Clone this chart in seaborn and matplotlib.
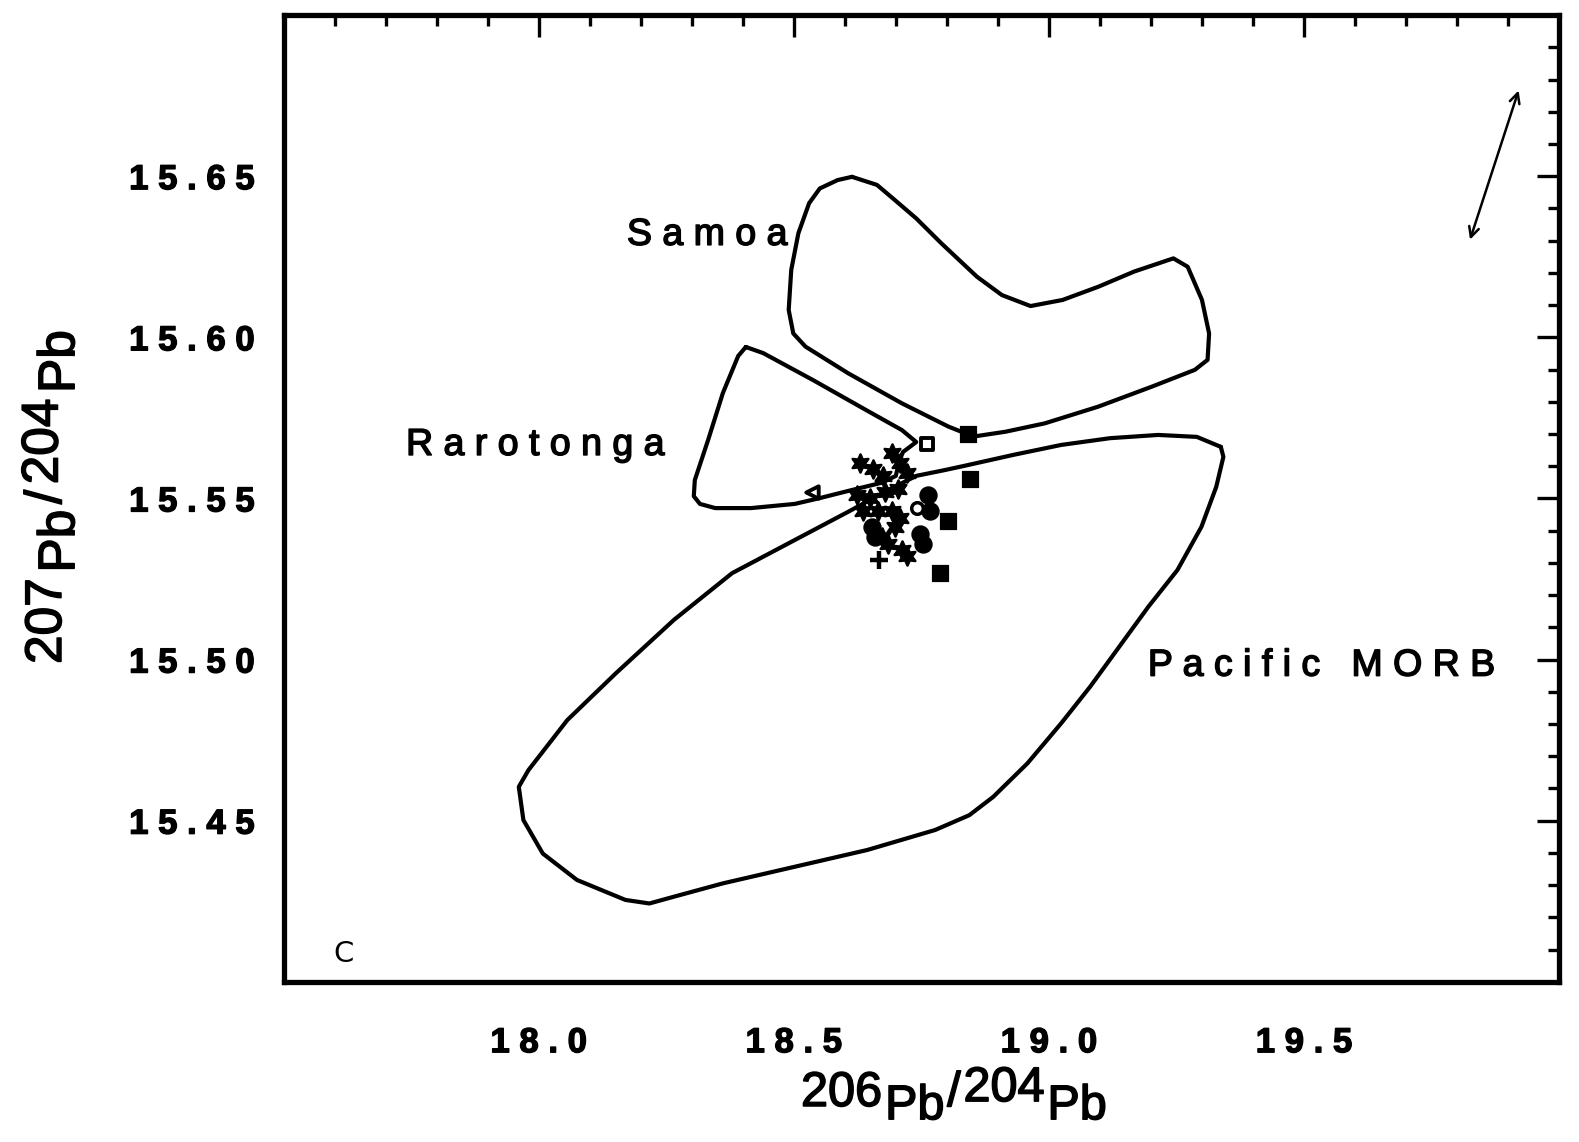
import matplotlib
matplotlib.use("Agg")
import matplotlib.pyplot as plt
import matplotlib.patheffects as pe
from matplotlib.ticker import FixedLocator, FixedFormatter
import seaborn as sns
import pandas as pd

# ---------------- data ----------------
# field outlines (206Pb/204Pb, 207Pb/204Pb)
samoa_x = [18.614, 18.663, 18.698, 18.740, 18.789, 18.859, 18.908, 18.964, 19.027,
           19.097, 19.167, 19.244, 19.272, 19.300, 19.314, 19.311, 19.286, 19.202,
           19.097, 18.992, 18.915, 18.852, 18.803, 18.712, 18.607, 18.523, 18.499,
           18.490, 18.495, 18.509, 18.530, 18.551, 18.586]
samoa_y = [15.6498, 15.6473, 15.6426, 15.6369, 15.6292, 15.6188, 15.6131, 15.6097,
           15.6116, 15.6157, 15.6204, 15.6245, 15.6219, 15.6116, 15.6012, 15.5930,
           15.5899, 15.5847, 15.5785, 15.5733, 15.5707, 15.5692, 15.5723, 15.5795,
           15.5888, 15.5971, 15.6012, 15.6085, 15.6209, 15.6323, 15.6416, 15.6462,
           15.6488]

raro_x = [18.406, 18.391, 18.361, 18.332, 18.306, 18.304, 18.316, 18.346, 18.416,
          18.502, 18.551, 18.606, 18.673, 18.700, 18.706, 18.714, 18.740, 18.712,
          18.642, 18.538, 18.440]
raro_y = [15.5970, 15.5942, 15.5827, 15.5681, 15.5557, 15.5507, 15.5483, 15.5470,
          15.5470, 15.5483, 15.5501, 15.5523, 15.5549, 15.5570, 15.5613, 15.5644,
          15.5675, 15.5712, 15.5774, 15.5867, 15.5951]

morb_x = [19.337, 19.342, 19.328, 19.299, 19.252, 19.195, 19.138, 19.081, 19.024,
          18.958, 18.891, 18.844, 18.777, 18.644, 18.502, 18.360, 18.265, 18.217,
          18.170, 18.075, 18.008, 17.970, 17.961, 17.980, 18.056, 18.151, 18.265,
          18.379, 18.502, 18.606, 18.689, 18.740, 18.796, 18.834, 18.930, 19.024,
          19.120, 19.214, 19.290]
morb_y = [15.5660, 15.5629, 15.5536, 15.5412, 15.5278, 15.5164, 15.5040, 15.4916,
          15.4802, 15.4678, 15.4574, 15.4517, 15.4471, 15.4409, 15.4357, 15.4305,
          15.4264, 15.4243, 15.4254, 15.4316, 15.4398, 15.4502, 15.4605, 15.4657,
          15.4812, 15.4957, 15.5123, 15.5268, 15.5371, 15.5458, 15.5529, 15.5570,
          15.5588, 15.5601, 15.5635, 15.5666, 15.5687, 15.5697, 15.5691]

# samples
star_x = [18.630, 18.656, 18.692, 18.708, 18.721, 18.675, 18.623, 18.649, 18.679,
          18.705, 18.636, 18.666, 18.692, 18.708, 18.698, 18.672, 18.685, 18.712, 18.721]
star_y = [15.561, 15.559, 15.564, 15.561, 15.558, 15.557, 15.551, 15.550, 15.552,
          15.553, 15.546, 15.546, 15.546, 15.544, 15.541, 15.538, 15.536, 15.534, 15.532]
circle_x = [18.653, 18.659, 18.747, 18.754, 18.764, 18.767]
circle_y = [15.541, 15.538, 15.539, 15.536, 15.551, 15.546]
open_circle_x = [18.741]
open_circle_y = [15.547]
square_x = [18.841, 18.845, 18.802, 18.787]
square_y = [15.570, 15.556, 15.543, 15.527]
open_square_x = [18.762]
open_square_y = [15.567]
triangle_x = [18.536]
triangle_y = [15.552]
plus_x = [18.667]
plus_y = [15.531]

x_major = [18.0, 18.5, 19.0, 19.5]
x_tick_labels = ["18.0", "18.5", "19.0", "19.5"]
y_major = [15.45, 15.50, 15.55, 15.60, 15.65]
y_tick_labels = ["15.45", "15.50", "15.55", "15.60", "15.65"]

# ---------------- figure ----------------
sns.set_theme(style="white")
plt.rcParams["font.family"] = ["Liberation Sans", "DejaVu Sans"]
plt.rcParams.update({"text.color": "black", "axes.labelcolor": "black",
                     "xtick.color": "black", "ytick.color": "black"})

# slightly heavier strokes for printed-looking text
heavy = [pe.withStroke(linewidth=1.1, foreground="black")]

fig = plt.figure(figsize=(15.79, 11.42), dpi=100)
ax = fig.add_axes([0.1796, 0.1403, 0.8078, 0.8465])
ax.set_xlim(17.5, 20.0)
ax.set_ylim(15.40, 15.70)

def outline(xs, ys):
    df = pd.DataFrame({"x": list(xs) + [xs[0]], "y": list(ys) + [ys[0]]})
    sns.lineplot(data=df, x="x", y="y", sort=False, estimator=None, ax=ax,
                 color="black", linewidth=3.0, solid_joinstyle="round")

outline(samoa_x, samoa_y)
outline(raro_x, raro_y)
outline(morb_x, morb_y)

sns.scatterplot(x=star_x, y=star_y, marker=(6, 1, 0), s=170, color="black",
                edgecolor="black", linewidth=1.8, ax=ax, zorder=3)
sns.scatterplot(x=circle_x, y=circle_y, marker="o", s=150, color="black",
                edgecolor="black", ax=ax, zorder=3)
sns.scatterplot(x=open_circle_x, y=open_circle_y, marker="o", s=70, color="white",
                edgecolor="black", linewidth=2.5, ax=ax, zorder=4)
sns.scatterplot(x=square_x, y=square_y, marker="s", s=120, color="black",
                edgecolor="black", ax=ax, zorder=3)
sns.scatterplot(x=open_square_x, y=open_square_y, marker="s", s=70, color="white",
                edgecolor="black", linewidth=2.8, ax=ax, zorder=3)
sns.scatterplot(x=triangle_x, y=triangle_y, marker="<", s=80, color="white",
                edgecolor="black", linewidth=2.8, ax=ax, zorder=3)
sns.scatterplot(x=plus_x, y=plus_y, marker="+", s=170, color="black",
                linewidth=3.2, ax=ax, zorder=3)

# field labels
label_kw = dict(fontsize=27, family="Liberation Sans", va="baseline", ha="left",
                color="black", path_effects=heavy)
ax.text(18.173, 15.6287, "S a m o a", **label_kw)
ax.text(17.740, 15.5635, "R a r o t o n g a", **label_kw)
ax.text(19.194, 15.4950, "P a c i f i c   M O R B", **label_kw)
ax.text(17.597, 15.4062, "C", fontsize=21, family="DejaVu Sans",
        va="baseline", ha="left", color="black")

# double-headed arrow, upper right
ax.annotate("", xy=(19.9206, 15.6766), xytext=(19.8254, 15.6303),
            arrowprops=dict(arrowstyle="<->", lw=1.8, color="black",
                            mutation_scale=18, shrinkA=0, shrinkB=0))

# ticks
ax.xaxis.set_major_locator(FixedLocator(x_major))
ax.xaxis.set_major_formatter(FixedFormatter([" ".join(t) for t in x_tick_labels]))
ax.xaxis.set_minor_locator(FixedLocator([round(17.6 + 0.1 * i, 1) for i in range(24)]))
ax.yaxis.set_major_locator(FixedLocator(y_major))
ax.yaxis.set_major_formatter(FixedFormatter([" ".join(t) for t in y_tick_labels]))
ax.yaxis.set_minor_locator(FixedLocator([round(15.41 + 0.01 * i, 2) for i in range(29)]))

ax.tick_params(which="both", direction="in", top=True, right=True,
               color="black", width=2.4)
ax.tick_params(which="major", length=16)
ax.tick_params(which="minor", length=8)
ax.tick_params(axis="x", which="major", pad=32)
ax.tick_params(axis="y", which="major", pad=21)
for lab in ax.get_xticklabels() + ax.get_yticklabels():
    lab.set_fontfamily("Liberation Sans")
    lab.set_fontweight("bold")
    lab.set_fontsize(25)
    lab.set_color("black")
    lab.set_path_effects([pe.withStroke(linewidth=1.0, foreground="black")])

for sp in ax.spines.values():
    sp.set_linewidth(3.8)
    sp.set_color("black")
ax.set_xlabel("")
ax.set_ylabel("")

# axis titles built from pieces: mass numbers on the line, "Pb" set lower
def isotope_label(x0, y0, parts, size, rotation=0, gap=2):
    common = dict(fontsize=size, family="Liberation Sans", color="black",
                  path_effects=heavy)
    prev = fig.text(x0, y0, parts[0][0], rotation=rotation, rotation_mode="anchor",
                    ha="left", va="baseline", **common)
    shift_prev = parts[0][1]
    for text, shift in parts[1:]:
        d = shift - shift_prev
        if rotation == 0:
            prev = ax.annotate(text, xy=(1, 0), xycoords=prev, xytext=(gap, d),
                               textcoords="offset points", ha="left", va="bottom",
                               annotation_clip=False, **common)
        else:
            prev = ax.annotate(text, xy=(1, 1), xycoords=prev, xytext=(-d, gap),
                               textcoords="offset points", ha="right", va="bottom",
                               rotation=rotation, annotation_clip=False, **common)
        shift_prev = shift

W, H = 1579.0, 1142.0
isotope_label(801 / W, 1 - 1106 / H,
              [("206", 0), ("Pb", -9.5), ("/", 0), ("204", 3.5), ("Pb", -9.5)], 35)
isotope_label(61 / W, 1 - 664 / H,
              [("207", 0), ("Pb", -9.5), ("/", 0), ("204", 2.5), ("Pb", -9.5)], 37,
              rotation=90, gap=4)

fig.savefig("out.png", dpi=100, facecolor="white")
